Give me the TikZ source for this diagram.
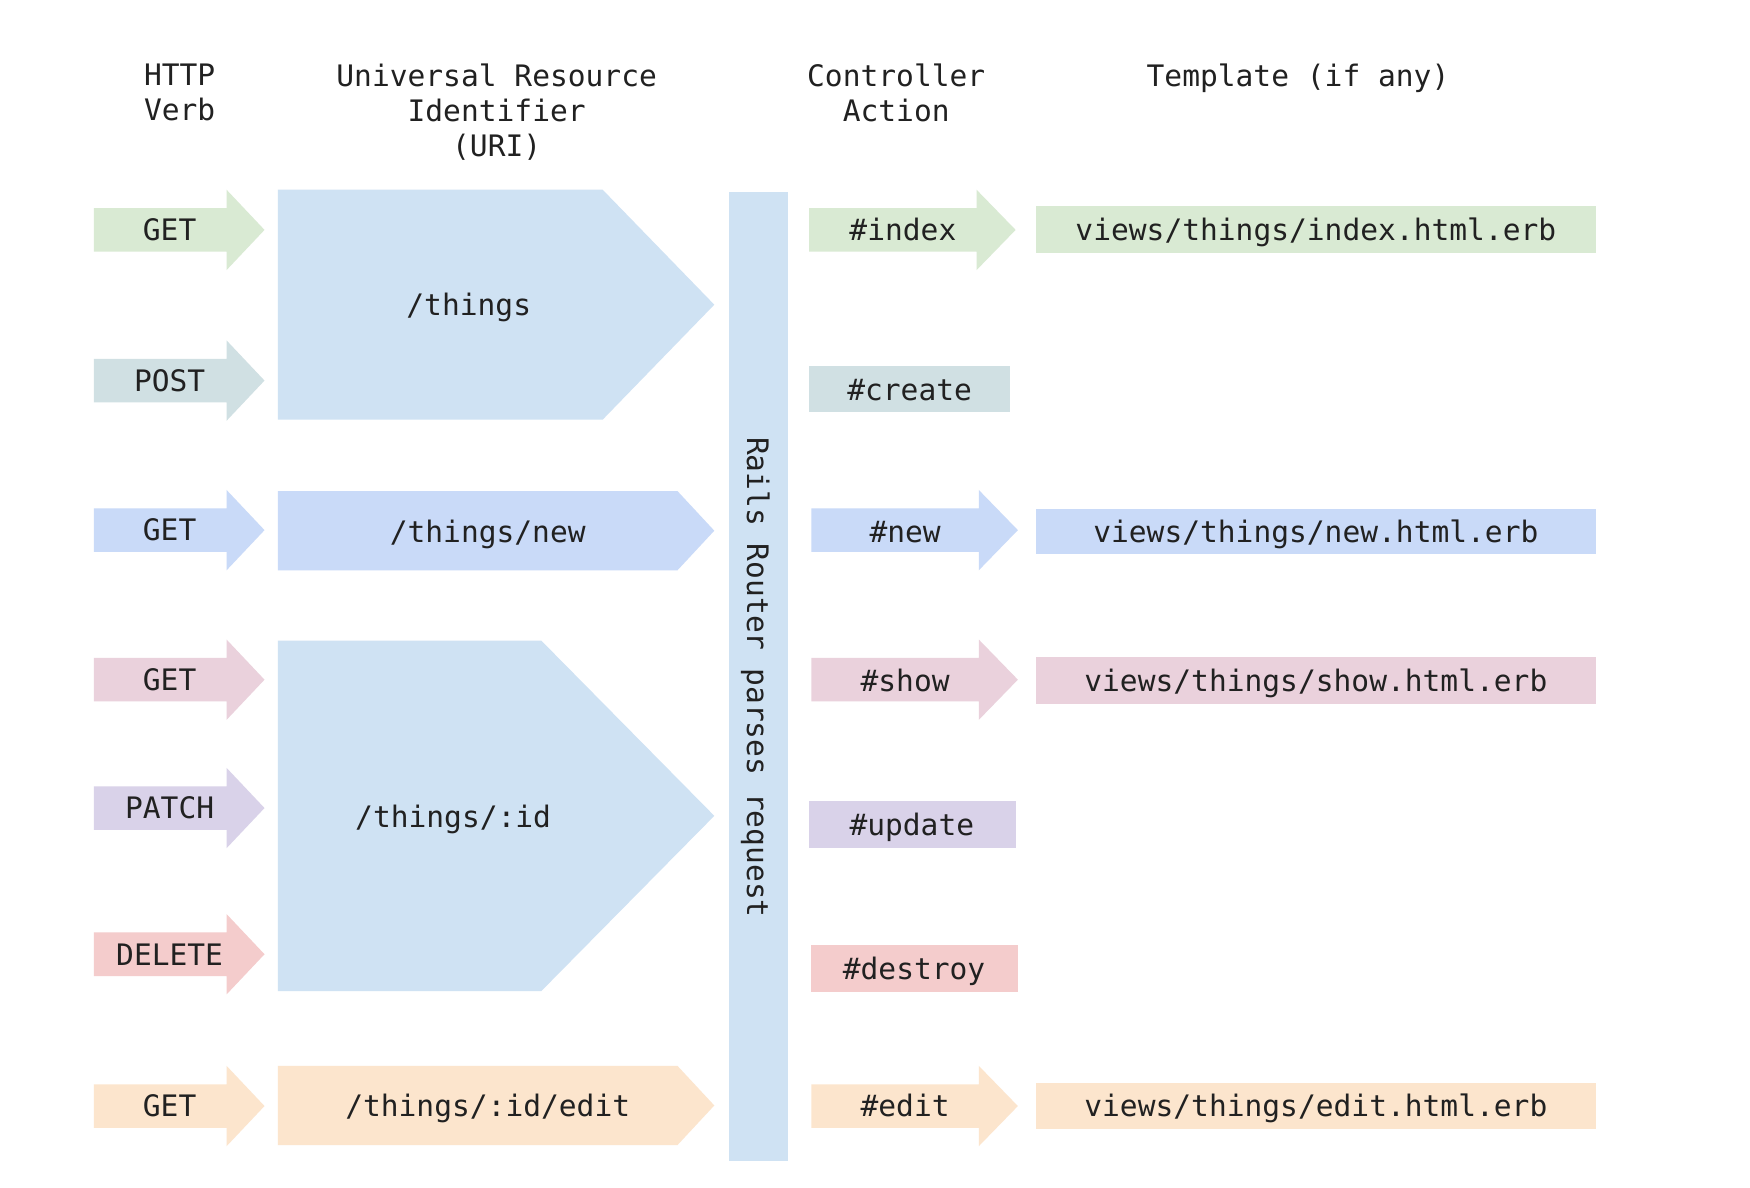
\documentclass[tikz,border=0pt]{standalone}
\usepackage{fontspec}
\setmonofont{DejaVu Sans Mono}
\definecolor{cgreen}{HTML}{D9EAD3}
\definecolor{ccyan}{HTML}{D0E0E3}
\definecolor{cblue}{HTML}{CFE2F3}
\definecolor{ccorn}{HTML}{C9DAF8}
\definecolor{cmag}{HTML}{EAD1DC}
\definecolor{cpurp}{HTML}{D9D2E9}
\definecolor{cred}{HTML}{F4CCCC}
\definecolor{corange}{HTML}{FCE5CD}
\definecolor{ctext}{HTML}{212121}
\newcommand\blockarr[5]{% colour, x left, x head base, x tip, y centre
  \fill[#1] (#2,{#5-19.5}) -- (#3,{#5-19.5}) -- (#3,{#5-36}) -- (#4,#5) -- (#3,{#5+36}) -- (#3,{#5+19.5}) -- (#2,{#5+19.5}) -- cycle;}
\begin{document}
\begin{tikzpicture}[x=1pt,y=-1pt,
  lbl/.style={font=\ttfamily\fontsize{26.5}{31.5}\selectfont, text=ctext, inner sep=0pt, text height=19.3pt, text depth=0pt},
  hdr/.style={font=\ttfamily\fontsize{26.5}{31.5}\selectfont, text=ctext, inner sep=0pt, align=center, anchor=north}]
\useasboundingbox (0,0) rectangle (1568,1064);
\fill[white] (0,0) rectangle (1568,1064);

% headers
\node[hdr] (hverb) at (161,57) {HTTP\\Verb};
\node[hdr] (huri) at (445,57) {Universal Resource\\Identifier\\(URI)};
\node[hdr] (hact) at (803,57) {Controller\\Action};
\node[hdr] (htpl) at (1163,57) {Template (if any)};

% verb arrows
\blockarr{cgreen}{84}{203}{237}{206}
\blockarr{ccyan}{84}{203}{237}{341}
\blockarr{ccorn}{84}{203}{237}{475}
\blockarr{cmag}{84}{203}{237}{609}
\blockarr{cpurp}{84}{203}{237}{724}
\blockarr{cred}{84}{203}{237}{855}
\blockarr{corange}{84}{203}{237}{991}
\node[lbl] (v1) at (152,206) {GET};
\node[lbl] (v2) at (152,341) {POST};
\node[lbl] (v3) at (152,475) {GET};
\node[lbl] (v4) at (152,609) {GET};
\node[lbl] (v5) at (152,724) {PATCH};
\node[lbl] (v6) at (152,855) {DELETE};
\node[lbl] (v7) at (152,991) {GET};

% URI shapes
\fill[cblue] (249,170) -- (540,170) -- (640,273) -- (540,376) -- (249,376) -- cycle;
\fill[ccorn] (249,440) -- (607,440) -- (640,475.5) -- (607,511) -- (249,511) -- cycle;
\fill[cblue] (249,574) -- (485,574) -- (640,731) -- (485,888) -- (249,888) -- cycle;
\fill[corange] (249,955) -- (607,955) -- (640,990.5) -- (607,1026) -- (249,1026) -- cycle;
\node[lbl] (u1) at (420,273) {/things};
\node[lbl] (u2) at (437,476) {/things/new};
\node[lbl] (u3) at (406,732) {/things/:id};
\node[lbl] (u4) at (437,991) {/things/:id/edit};

% router bar
\fill[cblue] (653,172) rectangle (706,1040);
\node[lbl, rotate=-90] (router) at (679,607) {Rails Router parses request};

% actions
\blockarr{cgreen}{725}{875}{910}{206}
\fill[ccyan] (725,328) rectangle (905,369);
\blockarr{ccorn}{727}{877}{912}{475}
\blockarr{cmag}{727}{877}{912}{609}
\fill[cpurp] (725,718) rectangle (910,760);
\fill[cred] (727,847) rectangle (912,889);
\blockarr{corange}{727}{877}{912}{991}
\node[lbl] (a1) at (809,206) {\#index};
\node[lbl] (a2) at (815,349) {\#create};
\node[lbl] (a3) at (811,476) {\#new};
\node[lbl] (a4) at (811,610) {\#show};
\node[lbl] (a5) at (817,739) {\#update};
\node[lbl] (a6) at (819,868) {\#destroy};
\node[lbl] (a7) at (811,991) {\#edit};

% templates
\fill[cgreen] (928,185) rectangle (1430,227);
\fill[ccorn] (928,456) rectangle (1430,496);
\fill[cmag] (928,589) rectangle (1430,631);
\fill[corange] (928,970) rectangle (1430,1012);
\node[lbl] (t1) at (1179,206) {views/things/index.html.erb};
\node[lbl] (t2) at (1179,476) {views/things/new.html.erb};
\node[lbl] (t3) at (1179,610) {views/things/show.html.erb};
\node[lbl] (t4) at (1179,991) {views/things/edit.html.erb};
\end{tikzpicture}
\end{document}
